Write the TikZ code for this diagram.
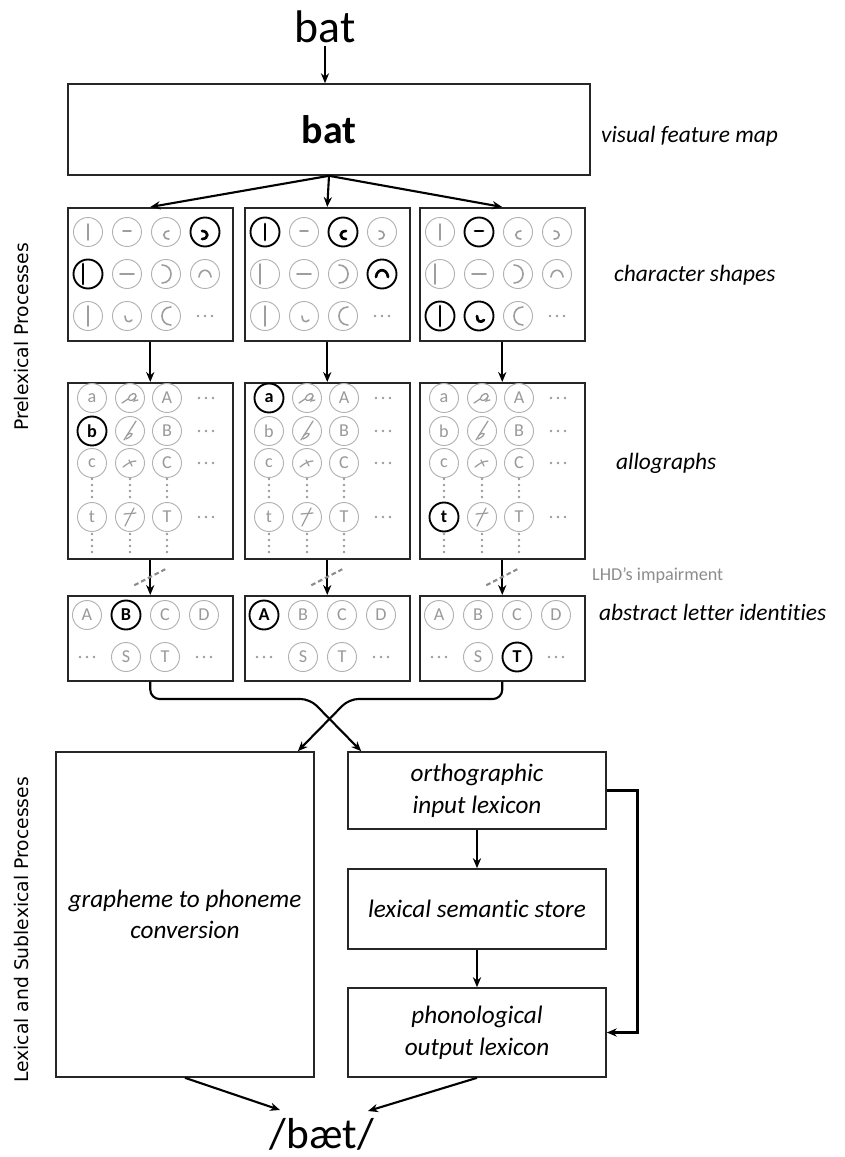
\documentclass[tikz,border=0pt]{standalone}
\usepackage{fontspec}
\setmainfont{Carlito}[Ligatures=NoCommon]
\newfontfamily\sidefont{DejaVu Sans}
\usetikzlibrary{arrows.meta,calc}
\newcommand{\px}{0.03cm}

\makeatletter
\newcommand{\pickstyle}[2]{%
  \edef\pick@tmp{\noexpand\in@{,#1,}{,#2,}}\pick@tmp
  \ifin@\def\cstc{litc}\def\cstg{litg}\else\def\cstc{dimc}\def\cstg{dimg}\fi}
\makeatother

\newcommand{\dotrow}[2]{\foreach \dd in {-7,0,7} \fill[black!40] ({#1+\dd},#2) circle (1.2pt);}
\newcommand{\dotcol}[2]{\foreach \dd in {0,1,2,3} \fill[black!40] (#1,{#2+6*\dd}) circle (1.1pt);}

% stroke pieces inside the circles
\newcommand{\gsbar}{\draw (0,-8) -- (0,8);}
\newcommand{\glbar}{\draw (-5,-10) -- (-5,10);}
\newcommand{\gtbar}{\draw (0,-10) -- (0,10);}
\newcommand{\gsdash}{\draw (-4,-1) -- (4,-1);}
\newcommand{\gldash}{\draw (-7,0) -- (7,0);}
\newcommand{\ghook}{\draw (-2,0) .. controls (-2,6) and (2,7) .. (5,4);}
\newcommand{\gsmc}{\draw (3,-1) .. controls (-4,-1) and (-4,7) .. (3,7);}
\newcommand{\gsmrc}{\draw (-3,-1) .. controls (4,-1) and (4,7) .. (-3,7);}
\newcommand{\gbigc}{\draw (5,-9) .. controls (-7,-9) and (-7,9) .. (5,9);}
\newcommand{\gbigrc}{\draw (-4,-9) .. controls (8,-9) and (8,9) .. (-4,9);}
\newcommand{\gcap}{\draw (-6,3) .. controls (-5,-6) and (5,-6) .. (6,3);}
\newcommand{\gcura}{\draw (-8,5) -- (-2,1) .. controls (0,-5) and (6,-6) .. (6,-2) .. controls (5,2) and (0,4) .. (-2,1); \draw (6,-2) -- (4,3) -- (8,2);}
\newcommand{\gcurb}{\draw (-6,9) -- (6,-10); \draw (-3,4) .. controls (3,0) and (5,4) .. (-4,8);}
\newcommand{\gcurc}{\draw (-7,4) .. controls (-3,1) and (1,-2) .. (6,-2); \draw (-1,-3) -- (2,3);}
\newcommand{\gcurt}{\draw (-6,-3) -- (6,-4); \draw (4,-9) -- (-5,9);}

\begin{document}
\begin{tikzpicture}[x=\px, y=-\px,
  box/.style={draw=black!85, line width=1.4pt, rectangle, inner sep=0pt, align=center,
              font=\fontsize{21.5}{27}\selectfont\itshape},
  panel/.style={draw=black!85, line width=1.3pt, rectangle, inner sep=0pt, anchor=north west, minimum width=165*\px},
  arr/.style={-{Stealth[length=8.5pt,width=7pt]}, line width=1.8pt},
  cut/.style={black!45, line width=1.8pt, dash pattern=on 4pt off 2.5pt},
  lab/.style={anchor=west, font=\fontsize{20}{22}\selectfont\itshape},
  side/.style={rotate=90, font=\sidefont\fontsize{16}{17}\selectfont},
  dimc/.style={circle, draw=black!30, line width=0.8pt, minimum size=29*\px, inner sep=0pt, text=black!40, font=\fontsize{15.5}{16}\selectfont},
  litc/.style={circle, draw=black, line width=1.6pt, minimum size=29*\px, inner sep=0pt, font=\fontsize{15.5}{16}\selectfont\bfseries},
  dimg/.style={black!38, line width=1.4pt},
  litg/.style={black, line width=2.3pt}]
    \useasboundingbox (0,0) rectangle (844,1157);

    % input word
    \node[font=\fontsize{39}{39}\selectfont, inner sep=2pt] (word) at (325,27) {bat};
    \node[box, minimum width=522*\px, minimum height=91*\px, font=\fontsize{34}{34}\selectfont\bfseries] (vfm) at (329,129.5) {bat};
    \draw[arr, line width=1pt] (word.south) -- (word.south |- vfm.north);

    % character shapes
    \foreach \p/\x/\on in {1/67/{14,21}, 2/244/{11,13,24}, 3/419/{12,31,32}} {
        \node[panel, minimum height=133*\px] (cs\p) at (\x,207) {};
        \foreach \rw/\cl/\g in {1/1/sbar,1/2/sdash,1/3/smc,1/4/smrc,2/1/lbar,2/2/ldash,2/3/bigrc,2/4/cap,3/1/tbar,3/2/hook,3/3/bigc} {
            \pickstyle{\rw\cl}{\on}
            \node[\cstc] (cs\p-\rw-\cl) at ({\x+21+39*(\cl-1)},{232+42*(\rw-1)}) {};
            \begin{scope}[shift={(cs\p-\rw-\cl)}, \cstg, line cap=round]
                \csname g\g\endcsname
            \end{scope}
        }
        \dotrow{\x+138}{316}
    }

    % allographs
    \foreach \p/\x/\on in {1/67/{21}, 2/244/{11}, 3/419/{41}} {
        \node[panel, minimum height=176*\px] (al\p) at (\x,382) {};
        \foreach \rw/\y/\lc/\uc/\cur in {1/398/a/A/cura, 2/431/b/B/curb, 3/463/c/C/curc, 4/517/t/T/curt} {
            \pickstyle{\rw1}{\on}
            \node[\cstc] (al\p-\rw-1) at (\x+25,\y) {\lc};
            \node[dimc] (al\p-\rw-2) at (\x+63,\y) {};
            \begin{scope}[shift={(al\p-\rw-2)}, dimg, line width=1.1pt, line cap=round]
                \csname g\cur\endcsname
            \end{scope}
            \node[dimc] (al\p-\rw-3) at (\x+100,\y) {\uc};
            \dotrow{\x+139}{\y}
        }
        \foreach \cl in {25,63,100} {
            \dotcol{\x+\cl}{479}
            \dotcol{\x+\cl}{534}
        }
    }

    % abstract letter identities
    \foreach \p/\x/\on in {1/67/{12}, 2/244/{11}, 3/419/{23}} {
        \node[panel, minimum height=85*\px] (ab\p) at (\x,595) {};
        \foreach \cl/\uc in {1/A,2/B,3/C,4/D} {
            \pickstyle{1\cl}{\on}
            \node[\cstc] (ab\p-1-\cl) at ({\x+20+39*(\cl-1)},615) {\uc};
        }
        \foreach \cl/\uc in {2/S,3/T} {
            \pickstyle{2\cl}{\on}
            \node[\cstc] (ab\p-2-\cl) at ({\x+20+39*(\cl-1)},657) {\uc};
        }
        \dotrow{\x+20}{657}
        \dotrow{\x+137}{657}
    }

    \foreach \p in {1,2,3} {
        \draw[arr] (vfm.south) -- (cs\p.north);
        \draw[arr] (cs\p.south) -- (al\p.north);
        \draw[arr] (al\p.south) -- (ab\p.north);
        \draw[cut] ($(al\p.south)!0.5!(ab\p.north)+(-16,8)$) -- ++(31,-16);
    }

    % lexical and sublexical routes
    \node[box, minimum width=258*\px, minimum height=325*\px] (g2p) at (185,914.5) {grapheme to phoneme\\conversion};
    \node[box, minimum width=258*\px, minimum height=77*\px] (ortho) at (477,790.5) {orthographic\\input lexicon};
    \node[box, minimum width=258*\px, minimum height=80*\px] (lex) at (477,909) {lexical semantic store};
    \node[box, minimum width=258*\px, minimum height=89*\px] (phono) at (477,1032.5) {phonological\\output lexicon};
    \node[font=\fontsize{37}{37}\selectfont, inner sep=1pt] (ipa) at (322,1134) {/bæt/};
    \coordinate (inl) at (280,1110);
    \coordinate (inr) at (368,1111);

    \draw[arr, rounded corners=8pt] (ab1.south) |- (310,699) -- ($(ortho.north west)+(14,0)$);
    \draw[arr, rounded corners=8pt] (ab3.south) |- (349,699) -- ($(g2p.north east)+(-17,0)$);
    \draw[arr] (ortho) -- (lex);
    \draw[arr] (lex) -- (phono);
    \draw[arr, line width=2.4pt] (ortho.east) -- ++(31,0) |- (phono.east);
    \draw[arr] (g2p.south) -- (inl);
    \draw[arr] (phono.south) -- (inr);

    % labels
    \node[lab] (l-vfm) at (597,136) {visual feature map};
    \node[lab] (l-cs) at (610,275) {character shapes};
    \node[lab] (l-al) at (612,463) {allographs};
    \node[lab] (l-ab) at (595,612) {abstract letter identities};
    \node[anchor=west, text=black!45, font=\fontsize{15.5}{16}\selectfont] (l-cut) at (588,576) {LHD’s impairment};
    \node[side] (prelex) at (22,337) {Prelexical Processes};
    \node[side] (lexsub) at (22,930) {Lexical and Sublexical Processes};
\end{tikzpicture}
\end{document}
